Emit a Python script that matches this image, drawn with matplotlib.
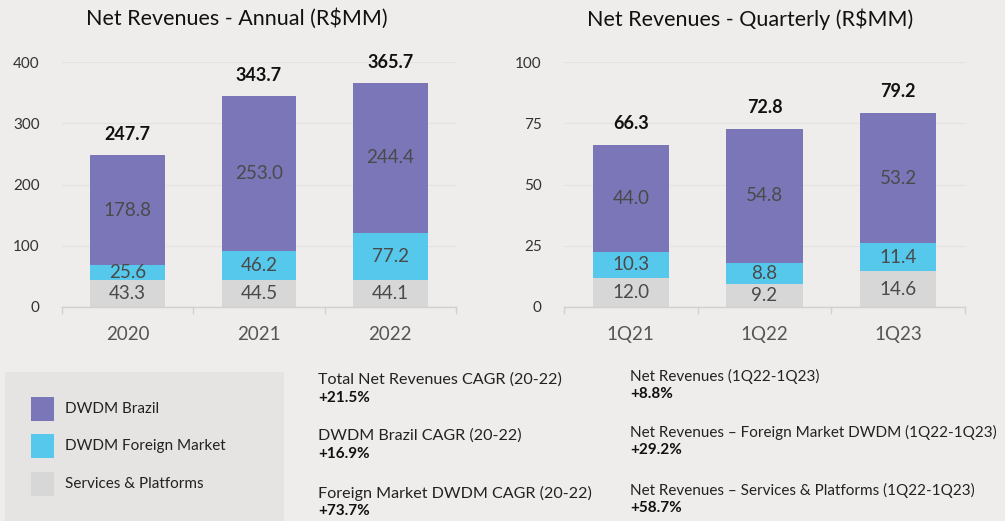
import matplotlib
matplotlib.use("Agg")
import matplotlib.pyplot as plt
from matplotlib.patches import Rectangle

# ---- data ----
annual_cats = ["2020", "2021", "2022"]
annual_services = [43.3, 44.5, 44.1]
annual_foreign = [25.6, 46.2, 77.2]
annual_brazil = [178.8, 253.0, 244.4]
annual_totals = [247.7, 343.7, 365.7]
annual_yticks = [0, 100, 200, 300, 400]

quarter_cats = ["1Q21", "1Q22", "1Q23"]
quarter_services = [12.0, 9.2, 14.6]
quarter_foreign = [10.3, 8.8, 11.4]
quarter_brazil = [44.0, 54.8, 53.2]
quarter_totals = [66.3, 72.8, 79.2]
quarter_yticks = [0, 25, 50, 75, 100]

legend_labels = ["DWDM Brazil", "DWDM Foreign Market", "Services & Platforms"]

cagr_titles = ["Total Net Revenues CAGR (20-22)", "DWDM Brazil CAGR (20-22)",
               "Foreign Market DWDM CAGR (20-22)"]
cagr_values = ["+21.5%", "+16.9%", "+73.7%"]
qoq_titles = ["Net Revenues (1Q22-1Q23)",
              "Net Revenues – Foreign Market DWDM (1Q22-1Q23)",
              "Net Revenues – Services & Platforms (1Q22-1Q23)"]
qoq_values = ["+8.8%", "+29.2%", "+58.7%"]

# ---- style ----
BG = "#EEEDEB"
C_BRAZIL = "#7B76B8"
C_FOREIGN = "#55C8EC"
C_SERV = "#D6D7D6"
FONT = ["Lato", "DejaVu Sans"]
plt.rcParams['font.family'] = FONT

W, H = 1005, 521
fig = plt.figure(figsize=(W / 100, H / 100), dpi=100, facecolor=BG)


def px_axes(x0, y0, x1, y1):
    return fig.add_axes([x0 / W, 1 - y1 / H, (x1 - x0) / W, (y1 - y0) / H])


def draw_panel(ax, cats, serv, foreign, brazil, totals, yticks):
    ax.set_facecolor(BG)
    x = list(range(len(cats)))
    bw = 0.57
    ax.bar(x, serv, bw, color=C_SERV, zorder=2)
    ax.bar(x, foreign, bw, bottom=serv, color=C_FOREIGN, zorder=2)
    b2 = [s + f for s, f in zip(serv, foreign)]
    ax.bar(x, brazil, bw, bottom=b2, color=C_BRAZIL, zorder=2)
    for i in x:
        ax.text(i, serv[i] / 2, f"{serv[i]:.1f}", ha="center", va="center",
                fontsize=13.5, color="#4a4a4a", zorder=3)
        ax.text(i, serv[i] + foreign[i] / 2, f"{foreign[i]:.1f}", ha="center",
                va="center", fontsize=13.5, color="#4a4a4a", zorder=3)
        ax.text(i, b2[i] + brazil[i] / 2, f"{brazil[i]:.1f}", ha="center",
                va="center", fontsize=13.5, color="#4a4a4a", zorder=3)
        ax.annotate(f"{totals[i]:.1f}", (i, totals[i]), xytext=(0, 9),
                    textcoords="offset points", ha="center", va="bottom",
                    fontsize=13, fontweight="bold", color="#111111",
                    annotation_clip=False, zorder=3)
    ax.set_xlim(-0.5, len(cats) - 0.5)
    ax.set_ylim(0, yticks[-1])
    ax.set_yticks(yticks)
    ax.set_yticklabels([str(t) for t in yticks])
    ax.yaxis.grid(True, color="#E4E3E1", linewidth=1, zorder=0)
    ax.set_axisbelow(True)
    for s in ["top", "right", "left"]:
        ax.spines[s].set_visible(False)
    ax.spines["bottom"].set_color("#D0D0D0")
    ax.spines["bottom"].set_linewidth(1)
    ax.tick_params(axis="y", length=0, pad=16, labelsize=11, labelcolor="#333333")
    ax.set_xticks(x)
    ax.set_xticklabels(cats)
    ax.tick_params(axis="x", length=0, pad=14, labelsize=13.5, labelcolor="#555555")
    for b in [i - 0.5 for i in range(len(cats) + 1)]:
        ax.plot([b, b], [0, -0.025 * yticks[-1]], color="#D0D0D0", lw=1,
                clip_on=False, zorder=1)


ax1 = px_axes(62, 62, 456, 307)
draw_panel(ax1, annual_cats, annual_services, annual_foreign, annual_brazil,
           annual_totals, annual_yticks)
ax2 = px_axes(564, 62, 965, 307)
draw_panel(ax2, quarter_cats, quarter_services, quarter_foreign, quarter_brazil,
           quarter_totals, quarter_yticks)

fig.text(237 / W, 1 - 19 / H, "Net Revenues - Annual (R$MM)", ha="center",
         va="center", fontsize=15.5, color="#111111")
fig.text(750 / W, 1 - 19 / H, "Net Revenues - Quarterly (R$MM)", ha="center",
         va="center", fontsize=15.5, color="#111111")

# ---- legend box ----
fig.patches.append(Rectangle((5 / W, 0), (284 - 5) / W, (H - 372) / H,
                             transform=fig.transFigure, facecolor="#E5E4E2",
                             edgecolor="none", zorder=0))
leg_colors = [C_BRAZIL, C_FOREIGN, C_SERV]
leg_y = [409, 446, 484]
for lab, col, yc in zip(legend_labels, leg_colors, leg_y):
    fig.patches.append(Rectangle((31 / W, 1 - (yc + 12) / H), 23 / W, 24 / H,
                                 transform=fig.transFigure, facecolor=col,
                                 edgecolor="none", zorder=1))
    fig.text(65 / W, 1 - yc / H, lab, ha="left", va="center", fontsize=11,
             color="#222222")

# ---- growth texts ----
c1_y = [380, 436, 493]
for t, v, yc in zip(cagr_titles, cagr_values, c1_y):
    fig.text(318 / W, 1 - yc / H, t, ha="left", va="center", fontsize=11.6,
             color="#222222")
    fig.text(318 / W, 1 - (yc + 18) / H, v, ha="left", va="center", fontsize=11,
             fontweight="bold", color="#111111")
c2_y = [376, 432, 490]
for t, v, yc in zip(qoq_titles, qoq_values, c2_y):
    fig.text(630 / W, 1 - yc / H, t, ha="left", va="center", fontsize=11,
             color="#222222")
    fig.text(630 / W, 1 - (yc + 18) / H, v, ha="left", va="center", fontsize=11,
             fontweight="bold", color="#111111")

fig.savefig("out.png", dpi=100, facecolor=BG)
